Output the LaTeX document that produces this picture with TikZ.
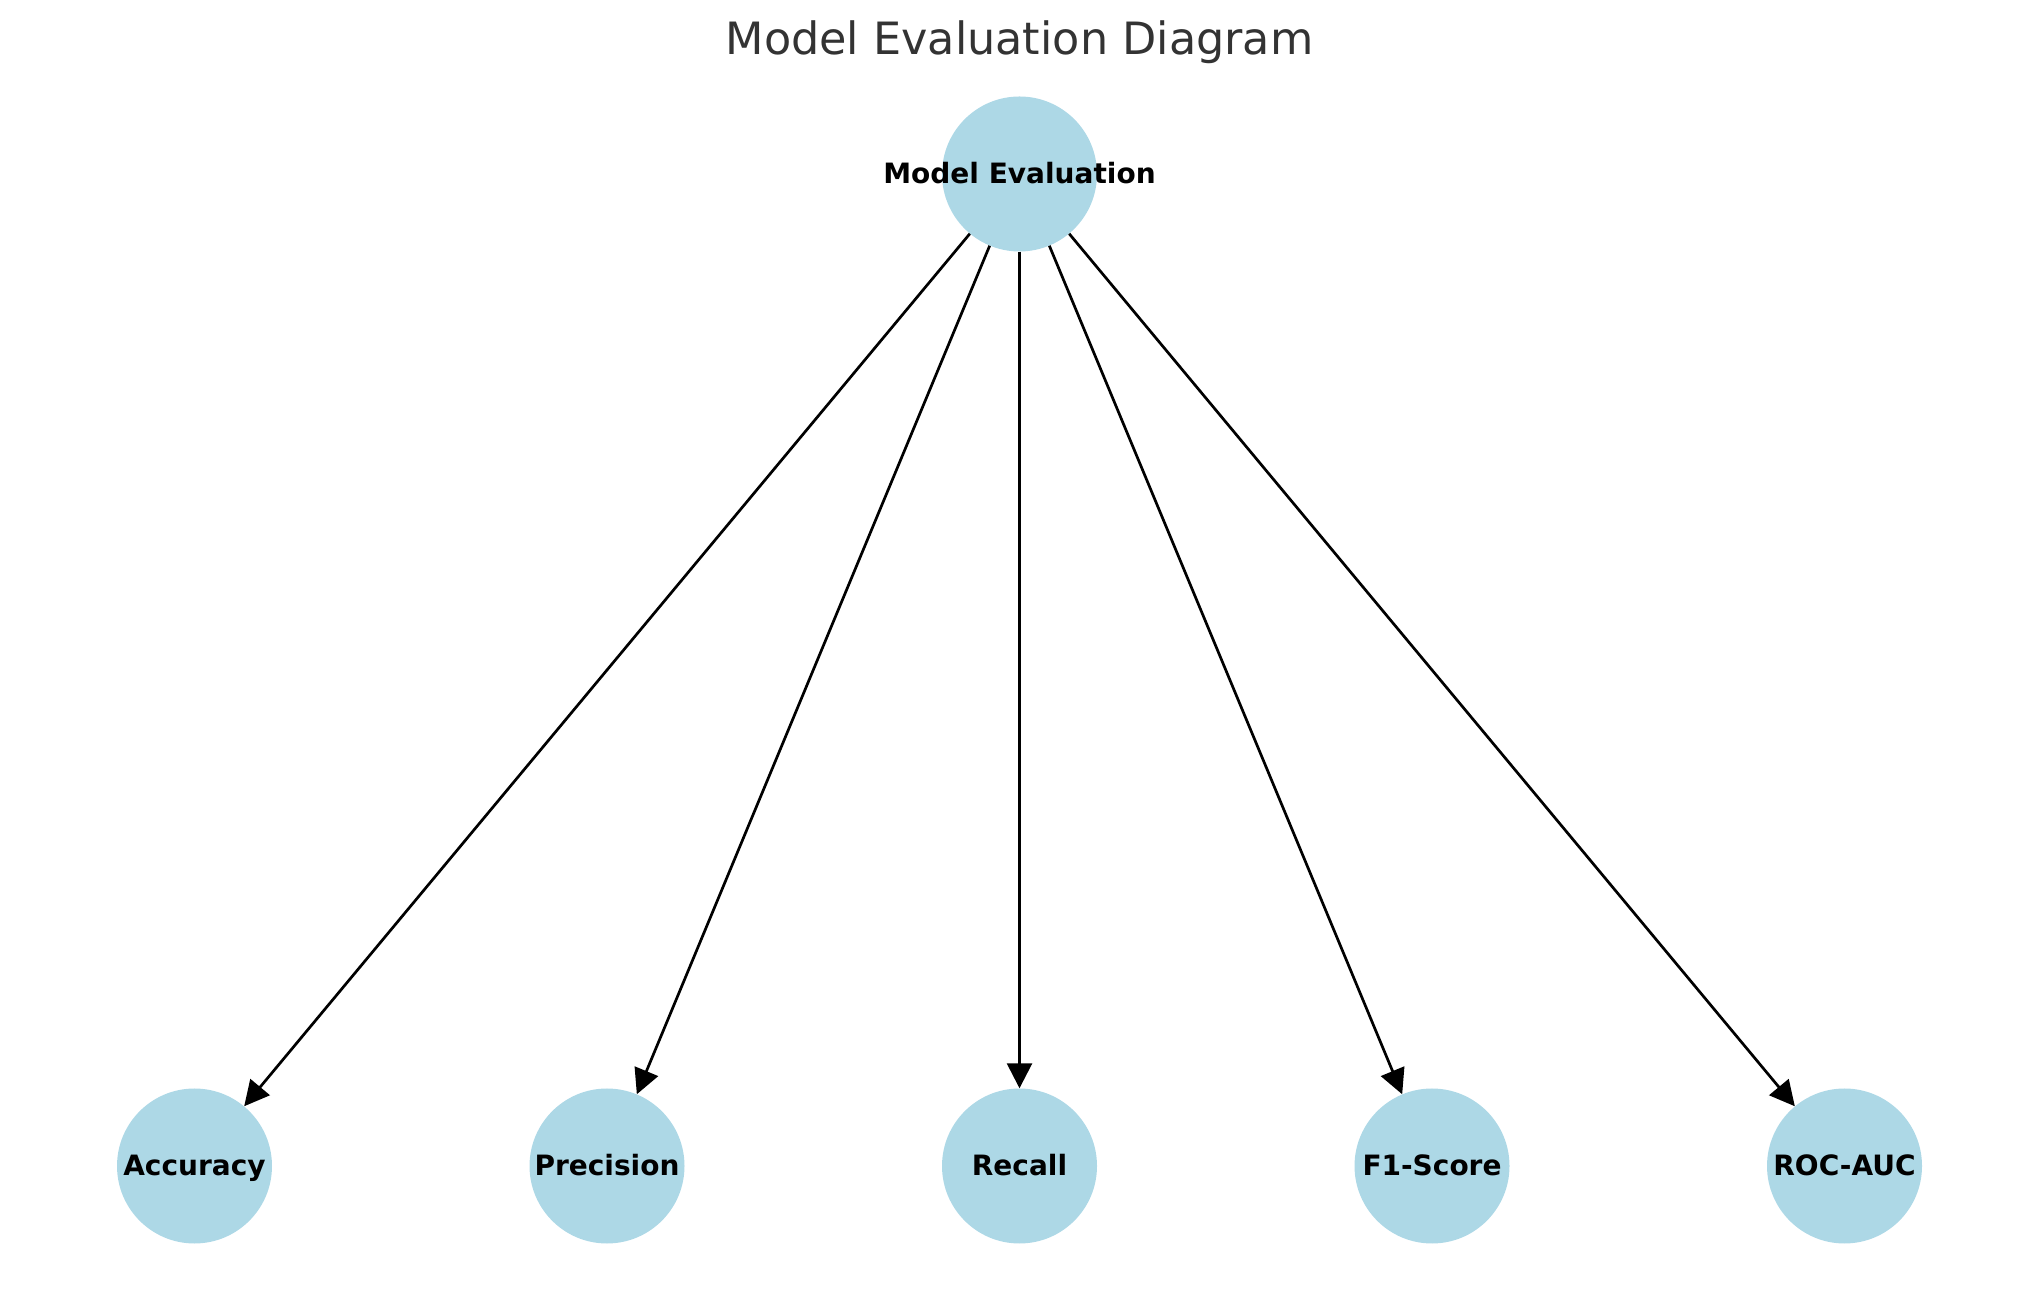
\documentclass[tikz,border=0pt]{standalone}
\usepackage{fontspec}
\setmainfont{DejaVu Sans}
\usetikzlibrary{arrows.meta}
\definecolor{nodeblue}{HTML}{ADD8E6}
\definecolor{titlegray}{HTML}{333333}
\tikzset{
  metric/.style={circle, fill=nodeblue, minimum size=155pt, inner sep=0pt},
  lbl/.style={font=\bfseries\fontsize{28}{34}\selectfont, text=black, anchor=base, inner sep=0pt},
  link/.style={draw=black, line width=2.7pt,
    -{Triangle[length=25pt,width=25pt]}},
  titletext/.style={font=\fontsize{44.5}{54}\selectfont, text=titlegray, anchor=base, inner sep=0pt}
}
\begin{document}
\begin{tikzpicture}[x=1pt,y=1pt]
\useasboundingbox (0,0) rectangle (2039,1290);
\node[titletext] (title) at (1019.5,1235) {Model Evaluation Diagram};
\node[metric] (me) at (1019.5,1116) {};
\node[metric] (acc) at (194.5,124) {};
\node[metric] (prec) at (607,124) {};
\node[metric] (rec) at (1019.5,124) {};
\node[metric] (f1) at (1432,124) {};
\node[metric] (roc) at (1844.5,124) {};
\foreach \t in {acc,prec,rec,f1,roc}
  \draw[link] (me) -- (\t);
\node[lbl] (me-l) at ([yshift=-9.5pt]me.center) {Model Evaluation};
\node[lbl] (acc-l) at ([yshift=-9.5pt]acc.center) {Accuracy};
\node[lbl] (prec-l) at ([yshift=-9.5pt]prec.center) {Precision};
\node[lbl] (rec-l) at ([yshift=-9.5pt]rec.center) {Recall};
\node[lbl] (f1-l) at ([yshift=-9.5pt]f1.center) {F1-Score};
\node[lbl] (roc-l) at ([yshift=-9.5pt]roc.center) {ROC-AUC};
\end{tikzpicture}
\end{document}
